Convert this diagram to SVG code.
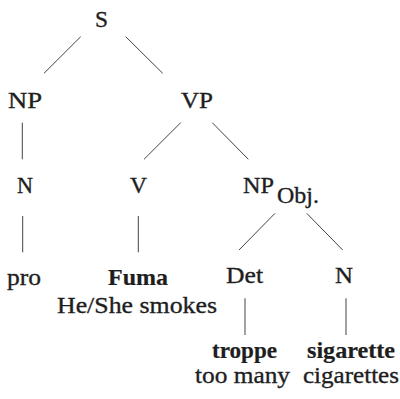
<svg xmlns="http://www.w3.org/2000/svg" width="400" height="399" viewBox="0 0 400 399">
  <style>
    text { font-family: "Liberation Serif", "Times New Roman", serif; font-size: 24px; fill: #1e1e1e; stroke: #1e1e1e; stroke-width: 0.35; }
    .b { font-weight: bold; stroke-width: 0.2; }
    .edge { stroke: #444; stroke-width: 1; fill: none; }
  </style>
  <rect width="400" height="399" fill="#fff"/>
  <g id="connectors">
    <line class="edge" x1="80.7" y1="36.7" x2="44" y2="73.3"/>
    <line class="edge" x1="125.7" y1="36.7" x2="162.7" y2="73.3"/>
    <line class="edge" x1="22.3" y1="122.7" x2="22.3" y2="159.3"/>
    <line class="edge" x1="180.7" y1="122.7" x2="144" y2="159.3"/>
    <line class="edge" x1="212.3" y1="122.7" x2="248.3" y2="159.3"/>
    <line class="edge" x1="22.7" y1="216" x2="22.7" y2="252.3"/>
    <line class="edge" x1="138.3" y1="216" x2="138.3" y2="252.3"/>
    <line class="edge" x1="275" y1="213.3" x2="239" y2="250"/>
    <line class="edge" x1="306.7" y1="213.3" x2="342.7" y2="250"/>
    <line class="edge" x1="245" y1="298.3" x2="245" y2="335"/>
    <line class="edge" x1="346" y1="298.3" x2="346" y2="335"/>
  </g>
  <g id="node-S"><text x="95" y="27" textLength="13" lengthAdjust="spacingAndGlyphs">S</text></g>
  <g id="node-NP"><text x="8" y="108" textLength="34" lengthAdjust="spacingAndGlyphs">NP</text></g>
  <g id="node-VP"><text x="181" y="108" textLength="32" lengthAdjust="spacingAndGlyphs">VP</text></g>
  <g id="node-N-subj"><text x="17" y="193" textLength="16" lengthAdjust="spacingAndGlyphs">N</text></g>
  <g id="node-V"><text x="130" y="193" textLength="17" lengthAdjust="spacingAndGlyphs">V</text></g>
  <g id="node-NP-obj">
    <text x="243" y="193" textLength="31" lengthAdjust="spacingAndGlyphs">NP</text>
    <text x="277" y="203" textLength="42" lengthAdjust="spacingAndGlyphs">Obj.</text>
  </g>
  <g id="node-pro"><text x="7" y="285" textLength="34" lengthAdjust="spacingAndGlyphs">pro</text></g>
  <g id="node-Fuma">
    <text class="b" x="108" y="285" textLength="60" lengthAdjust="spacingAndGlyphs">Fuma</text>
    <text x="57" y="313" textLength="160" lengthAdjust="spacingAndGlyphs">He/She smokes</text>
  </g>
  <g id="node-Det"><text x="226" y="283" textLength="37" lengthAdjust="spacingAndGlyphs">Det</text></g>
  <g id="node-N-obj"><text x="335" y="283" textLength="18" lengthAdjust="spacingAndGlyphs">N</text></g>
  <g id="node-troppe">
    <text class="b" x="212" y="358" textLength="65" lengthAdjust="spacingAndGlyphs">troppe</text>
    <text x="195" y="383" textLength="95" lengthAdjust="spacingAndGlyphs">too many</text>
  </g>
  <g id="node-sigarette">
    <text class="b" x="307" y="358" textLength="88" lengthAdjust="spacingAndGlyphs">sigarette</text>
    <text x="303" y="383" textLength="96" lengthAdjust="spacingAndGlyphs">cigarettes</text>
  </g>
</svg>
